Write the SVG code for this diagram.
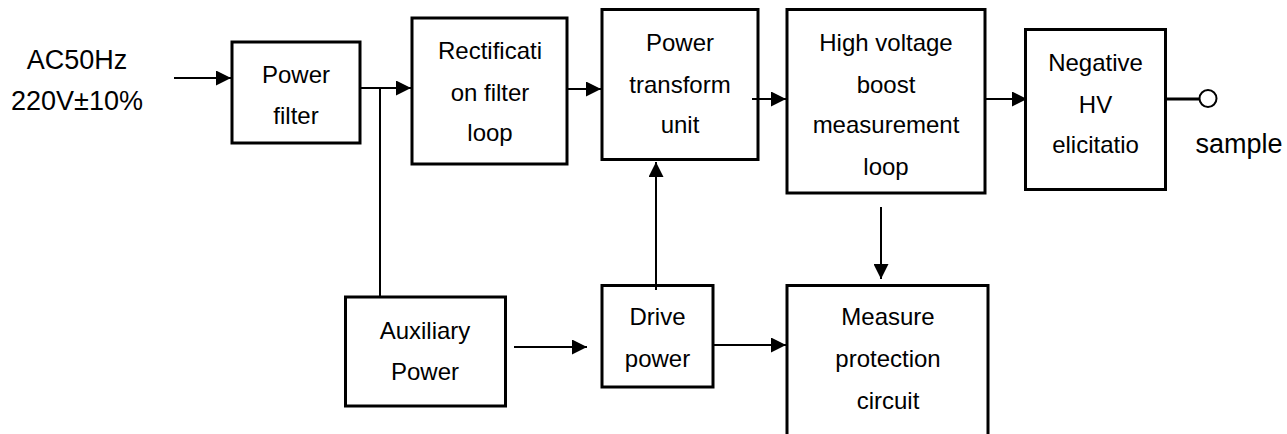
<svg xmlns="http://www.w3.org/2000/svg" width="1287" height="434" viewBox="0 0 1287 434">
<style>
.box{fill:#fff;stroke:#000;stroke-width:3}
.t{font-family:"Liberation Sans",Arial,sans-serif;font-size:24px;fill:#000;text-anchor:middle}
.lbl{font-family:"Liberation Sans",Arial,sans-serif;font-size:27px;fill:#000;text-anchor:middle}
.c{stroke:#000;stroke-width:2;fill:none}
</style>
<defs>
<marker id="ah" markerUnits="userSpaceOnUse" markerWidth="15" markerHeight="15" refX="15" refY="7.5" orient="auto">
<path d="M0,0 L15,7.5 L0,15 z" fill="#000"/>
</marker>
</defs>
<rect width="1287" height="434" fill="#fff"/>
<g id="input-label">
<text class="lbl" x="77" y="69">AC50Hz</text>
<text class="lbl" x="77" y="110">220V±10%</text>
</g>
<g id="power-filter">
<rect class="box" x="232" y="42" width="128" height="101"/>
<text class="t" x="296" y="83">Power</text>
<text class="t" x="296" y="124">filter</text>
</g>
<g id="rectification">
<rect class="box" x="412" y="18" width="155" height="146"/>
<text class="t" x="490" y="59">Rectificati</text>
<text class="t" x="490" y="101">on filter</text>
<text class="t" x="490" y="141">loop</text>
</g>
<g id="power-transform">
<rect class="box" x="602" y="9.5" width="156" height="150"/>
<text class="t" x="680" y="51">Power</text>
<text class="t" x="680" y="93">transform</text>
<text class="t" x="680" y="133">unit</text>
</g>
<g id="hv-boost">
<rect class="box" x="787" y="9.5" width="198" height="183.5"/>
<text class="t" x="886" y="51">High voltage</text>
<text class="t" x="886" y="93">boost</text>
<text class="t" x="886" y="133">measurement</text>
<text class="t" x="886" y="175">loop</text>
</g>
<g id="negative-hv">
<rect class="box" x="1025.5" y="29.5" width="140" height="160"/>
<text class="t" x="1095.5" y="71">Negative</text>
<text class="t" x="1095.5" y="113">HV</text>
<text class="t" x="1095.5" y="153">elicitatio</text>
</g>
<g id="sample">
<circle cx="1208" cy="98.5" r="8.5" fill="#fff" stroke="#000" stroke-width="2"/>
<text class="lbl" x="1239" y="153">sample</text>
</g>
<g id="auxiliary-power">
<rect class="box" x="345.5" y="297" width="160" height="109"/>
<text class="t" x="425" y="339">Auxiliary</text>
<text class="t" x="425" y="380">Power</text>
</g>
<g id="drive-power">
<rect class="box" x="602" y="285.5" width="111" height="101.5"/>
<text class="t" x="657.5" y="325">Drive</text>
<text class="t" x="657.5" y="367">power</text>
</g>
<g id="measure-protection">
<rect class="box" x="787" y="285.5" width="201" height="180"/>
<text class="t" x="888" y="325">Measure</text>
<text class="t" x="888" y="367">protection</text>
<text class="t" x="888" y="409">circuit</text>
</g>
<g id="connectors">
<line class="c" x1="174" y1="78" x2="231" y2="78" marker-end="url(#ah)"/>
<line class="c" x1="360" y1="88" x2="411" y2="88" marker-end="url(#ah)"/>
<line class="c" x1="380" y1="88" x2="380" y2="297"/>
<line class="c" x1="566" y1="89" x2="601" y2="89" marker-end="url(#ah)"/>
<line class="c" x1="752" y1="99" x2="786" y2="99" marker-end="url(#ah)"/>
<line class="c" x1="985" y1="99" x2="1027" y2="99" marker-end="url(#ah)"/>
<line x1="1166" y1="99" x2="1199.5" y2="99" stroke="#000" stroke-width="3"/>
<line class="c" x1="656" y1="290" x2="656" y2="162" marker-end="url(#ah)"/>
<line class="c" x1="881" y1="207" x2="881" y2="279" marker-end="url(#ah)"/>
<line class="c" x1="514" y1="347" x2="587" y2="347" marker-end="url(#ah)"/>
<line class="c" x1="713" y1="345" x2="786" y2="345" marker-end="url(#ah)"/>
</g>
</svg>
